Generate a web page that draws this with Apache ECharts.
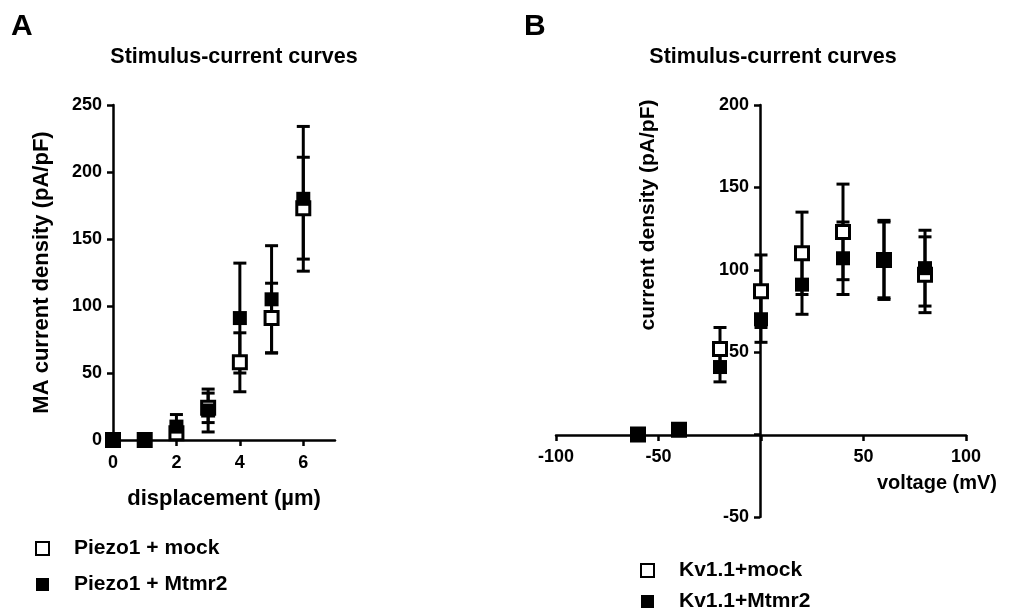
<!DOCTYPE html>
<html lang="en">
<head>
<meta charset="UTF-8">
<title>Stimulus-current curves</title>
<style>
    * { margin: 0; padding: 0; }
    #chart { width: 1009px; height: 611px; background: #fff; }
</style>
<script src="https://cdn.jsdelivr.net/npm/echarts@6/dist/echarts.min.js"></script>
</head>
<body>
<div id="chart"></div>
<script>
// panel A - displacement steps
var dispX = [0, 1, 2, 3, 4, 5, 6];
var piezoMock = [0, 0, 5, 24, 58, 91, 173];
var piezoMockErr = [0, 0, 4, 11, 22, 26, 38];
var piezoMtmr2 = [0, 0, 10, 22, 91, 105, 180];
var piezoMtmr2Err = [0, 0, 9, 16, 41, 40, 54];
var dispTicks = [0, 2, 4, 6];

// panel B - voltage steps
var voltX = [-60, -40, -20, 0, 20, 40, 60, 80];
var kvMock = [0, 3, 52, 87, 110, 123, 106, 97];
var kvMockErr = [0, 0, 13, 22, 25, 29, 24, 23];
var kvMtmr2 = [0, 3, 41, 70, 91, 107, 106, 101];
var kvMtmr2Err = [0, 0, 9, 14, 18, 22, 23, 23];

var FONT = 'Liberation Sans, Arial, sans-serif';
var AXC = '#000';

function pts(xs, ys) {
    return xs.map(function (x, i) { return [x, ys[i]]; });
}
function errs(xs, ys, es) {
    return xs.map(function (x, i) { return [x, ys[i] - es[i], ys[i] + es[i]]; });
}

function errRender(params, api) {
    var x = api.value(0), lo = api.value(1), hi = api.value(2);
    if (hi - lo <= 0) return null;
    var t = api.coord([x, hi]), b = api.coord([x, lo]);
    var hw = 6.5; // half width of cap
    var st = { stroke: '#000', lineWidth: 3 };
    return {
        type: 'group',
        children: [
            { type: 'line', shape: { x1: t[0], y1: t[1], x2: b[0], y2: b[1] }, style: st },
            { type: 'line', shape: { x1: t[0] - hw, y1: t[1], x2: t[0] + hw, y2: t[1] }, style: st },
            { type: 'line', shape: { x1: b[0] - hw, y1: b[1], x2: b[0] + hw, y2: b[1] }, style: st }
        ]
    };
}

var axLine = { show: true, onZero: false, lineStyle: { color: AXC, width: 2.5 } };
var axTick = { show: true, length: 6, lineStyle: { color: AXC, width: 2.5 } };
var axLabel = { color: '#000', fontSize: 18, fontWeight: 'bold', fontFamily: FONT, margin: 11 };
var legText = { color: '#000', fontSize: 21, fontWeight: 'bold', fontFamily: FONT, padding: [0, 0, 0, 20] };

var openSq = { color: '#fff', borderColor: '#000', borderWidth: 3, opacity: 1 };
var fillSq = { color: '#000', opacity: 1 };

var chart = echarts.init(document.getElementById('chart'));

var option = {
    animation: false,
    backgroundColor: '#fff',
    textStyle: { fontFamily: FONT },
    grid: [
        { left: 113, top: 105, width: 222, height: 335 },
        { left: 556, top: 105, width: 410, height: 412 }
    ],
    xAxis: [{
        gridIndex: 0, type: 'value', min: 0, max: 7,
        name: 'displacement (µm)', nameLocation: 'middle', nameGap: 48,
        nameTextStyle: { color: '#000', fontSize: 22, fontWeight: 'bold', fontFamily: FONT },
        axisLine: axLine,
        axisTick: { show: true, length: 6, lineStyle: { color: AXC, width: 2.5 }, customValues: dispTicks },
        axisLabel: Object.assign({}, axLabel, { margin: 14, customValues: dispTicks }),
        splitLine: { show: false }
    }, {
        // crosses the y axis at 0: (517 - 435) px above the grid bottom
        gridIndex: 1, type: 'value', min: -100, max: 100, interval: 50,
        position: 'bottom', offset: -82,
        axisLine: axLine,
        axisTick: axTick,
        axisLabel: Object.assign({}, axLabel, {
            margin: 13,
            formatter: function (v) { return v === 0 ? '' : v; }
        }),
        splitLine: { show: false }
    }],
    yAxis: [{
        gridIndex: 0, type: 'value', min: 0, max: 250, interval: 50,
        name: 'MA current density (pA/pF)', nameLocation: 'middle', nameGap: 60,
        nameTextStyle: { color: '#000', fontSize: 22, fontWeight: 'bold', fontFamily: FONT },
        axisLine: axLine, axisTick: axTick, axisLabel: axLabel,
        splitLine: { show: false }
    }, {
        // crosses the x axis at 0: (760 - 556) px right of the grid left
        gridIndex: 1, type: 'value', min: -50, max: 200, interval: 50,
        position: 'left', offset: -204,
        axisLine: axLine,
        axisTick: axTick,
        axisLabel: Object.assign({}, axLabel, {
            formatter: function (v) { return v === 0 ? '' : v; }
        }),
        splitLine: { show: false }
    }],
    legend: [{
        orient: 'vertical', left: 30, top: 533, height: 80, itemWidth: 13, itemHeight: 13, itemGap: 15,
        data: ['Piezo1 + mock', 'Piezo1 + Mtmr2'],
        textStyle: legText
    }, {
        orient: 'vertical', left: 635, top: 555, height: 80, itemWidth: 13, itemHeight: 13, itemGap: 10,
        data: ['Kv1.1+mock', 'Kv1.1+Mtmr2'],
        textStyle: legText
    }],
    graphic: [
        { type: 'text', x: 11, y: 12, style: { text: 'A', font: 'bold 30px ' + FONT, fill: '#000' } },
        { type: 'text', x: 524, y: 12, style: { text: 'B', font: 'bold 30px ' + FONT, fill: '#000' } },
        { type: 'text', x: 234, y: 57, style: { text: 'Stimulus-current curves', font: 'bold 21.5px ' + FONT, fill: '#000', align: 'center', verticalAlign: 'middle' } },
        { type: 'text', x: 773, y: 57, style: { text: 'Stimulus-current curves', font: 'bold 21.5px ' + FONT, fill: '#000', align: 'center', verticalAlign: 'middle' } },
        { type: 'text', x: 937, y: 483, style: { text: 'voltage (mV)', font: 'bold 20px ' + FONT, fill: '#000', align: 'center', verticalAlign: 'middle' } },
        { type: 'text', x: 648, y: 215, rotation: Math.PI / 2, style: { text: 'current density (pA/pF)', font: 'bold 21px ' + FONT, fill: '#000', align: 'center', verticalAlign: 'middle' } }
    ],
    series: [
        { type: 'custom', xAxisIndex: 0, yAxisIndex: 0, renderItem: errRender, data: errs(dispX, piezoMock, piezoMockErr), z: 1, silent: true },
        { type: 'custom', xAxisIndex: 0, yAxisIndex: 0, renderItem: errRender, data: errs(dispX, piezoMtmr2, piezoMtmr2Err), z: 1, silent: true },
        { name: 'Piezo1 + mock', type: 'scatter', xAxisIndex: 0, yAxisIndex: 0, symbol: 'rect', symbolSize: 13, itemStyle: openSq, data: pts(dispX, piezoMock), z: 3 },
        { name: 'Piezo1 + Mtmr2', type: 'scatter', xAxisIndex: 0, yAxisIndex: 0, symbol: 'rect', symbolSize: 14, itemStyle: fillSq, data: pts(dispX, piezoMtmr2), z: 4 },

        { type: 'custom', xAxisIndex: 1, yAxisIndex: 1, renderItem: errRender, data: errs(voltX, kvMock, kvMockErr), z: 1, silent: true },
        { type: 'custom', xAxisIndex: 1, yAxisIndex: 1, renderItem: errRender, data: errs(voltX, kvMtmr2, kvMtmr2Err), z: 1, silent: true },
        { name: 'Kv1.1+mock', type: 'scatter', xAxisIndex: 1, yAxisIndex: 1, symbol: 'rect', symbolSize: 13, itemStyle: openSq, data: pts(voltX, kvMock), z: 3 },
        { name: 'Kv1.1+Mtmr2', type: 'scatter', xAxisIndex: 1, yAxisIndex: 1, symbol: 'rect', symbolSize: 14, itemStyle: fillSq, data: pts(voltX, kvMtmr2), z: 4 }
    ]
};

chart.setOption(option);
</script>
</body>
</html>
